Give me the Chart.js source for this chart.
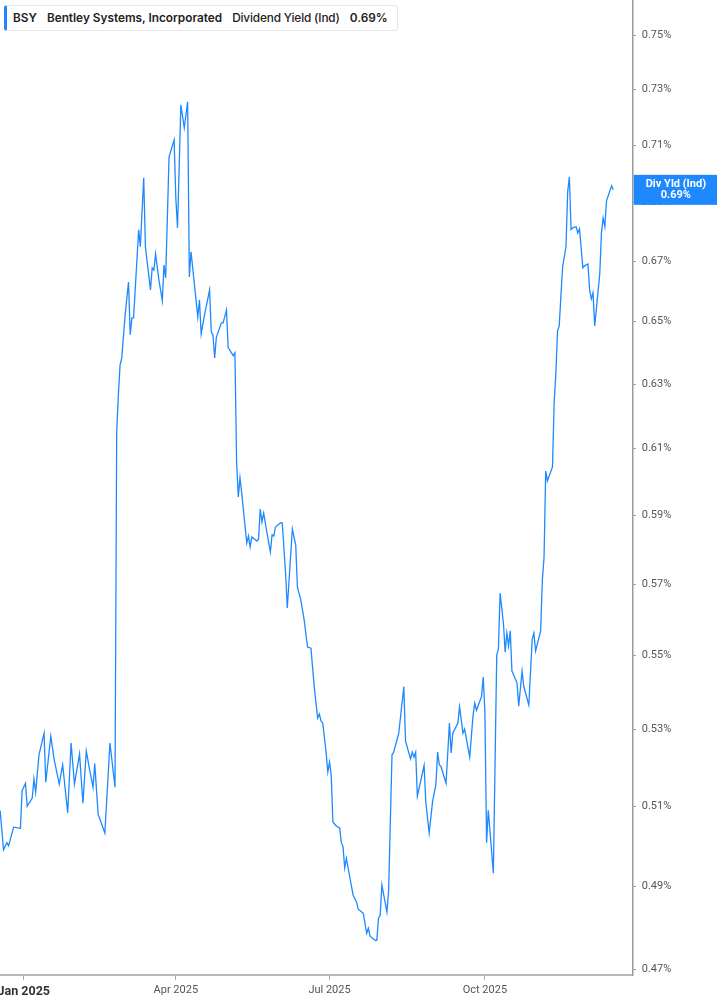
<!DOCTYPE html>
<html>
<head>
<meta charset="utf-8">
<script src="https://cdn.jsdelivr.net/npm/chart.js@4.4.1/dist/chart.umd.min.js"></script>
<style>
  body { margin: 0; background: #fff; }
  #wrap { position: relative; width: 717px; height: 1005px; }
  #head {
    position: absolute; left: 4px; top: 5px; width: 384px; height: 24px;
    background: #fff; border: 1px solid #e8e8e8; border-left: 3px solid #1e88ff;
    border-radius: 3px; font: 600 11.8px Inter, sans-serif; color: #222;
    line-height: 24px; white-space: nowrap; padding-left: 6px; box-sizing: content-box;
  }
  #head span { margin-right: 10px; }
  #head .lt { font-weight: 500; letter-spacing: -0.15px; }
</style>
</head>
<body>
<div id="wrap">
  <canvas id="myChart" width="717" height="1005"></canvas>
  <div id="head"><span>BSY</span><span>Bentley Systems, Incorporated</span><span class="lt">Dividend Yield (Ind)</span><span id="hval"></span></div>
</div>
<script>
// days since 2025-01-01
var days = [-14,-12,-10,-9,-6,-2,-1,1,2,5,6,7,9,12,13,16,18,21,23,26,28,30,33,35,37,39,41,42,44,48,51,54,
  55,56,57,58,60,62,63,64,65,68,69,71,72,75,76,77,78,80,82,83,84,86,89,90,91,93,95,97,98,99,100,103,104,105,107,110,111,112,113,114,117,118,120,121,124,125,
  126,127,128,129,132,133,134,135,138,139,140,141,142,144,146,147,148,149,152,153,155,156,159,161,162,164,
  166,168,170,172,174,175,176,177,179,180,181,182,183,185,187,188,189,190,191,193,195,197,198,201,203,204,205,208,209,210,211,212,215,216,218,219,222,225,
  226,229,230,231,232,233,237,238,240,242,244,245,246,247,250,252,253,254,257,258,260,261,264,266,267,268,271,272,273,274,275,278,280,
  281,282,284,285,286,287,288,289,292,293,295,296,299,301,302,303,306,307,308,309,310,313,314,315,316,317,318,319,321,322,323,324,325,327,328,329,331,332,334,335,336,337,338,341,342,343,344,345,348,349];

// dividend yield, %
var yields = [0.5089,0.4990,0.5008,0.5000,0.5047,0.5044,0.5140,0.5159,0.5100,0.5121,
  0.5170,0.5136,0.5233,0.5290,0.5162,0.5282,0.5220,0.5157,0.5207,0.5083,
  0.5264,0.5157,0.5235,0.5108,0.5243,0.5194,0.5149,0.5210,0.5080,0.5032,
  0.5264,0.5149,
  0.6151,0.6266,0.6361,0.6383,0.6522,0.6630,0.6457,0.6512,
  0.6512,0.6806,0.6748,0.6985,0.6748,0.6604,0.6677,0.6670,0.6724,0.6637,
  0.6568,0.6687,0.6644,0.7059,0.7119,0.6915,0.6812,0.7245,0.7162,0.7256,
  0.6647,0.6731,0.6677,0.6515,0.6571,0.6460,0.6522,0.6604,0.6467,0.6457,
  0.6383,0.6450,0.6496,0.6496,0.6538,0.6416,0.6390,0.6399,
  0.6056,0.5954,0.6011,0.5966,0.5818,0.5839,0.5807,0.5836,0.5824,0.5830,
  0.5918,0.5880,0.5906,0.5847,0.5792,0.5842,0.5839,0.5865,0.5877,0.5877,
  0.5731,0.5632,0.5859,0.5812,0.5691,0.5655,
  0.5598,0.5523,0.5520,0.5412,0.5330,0.5341,0.5322,0.5317,0.5238,0.5188,
  0.5214,0.5180,0.5060,0.5050,0.5045,0.5008,0.4998,0.4945,0.4969,0.4922,
  0.4878,0.4861,0.4844,0.4834,0.4786,0.4798,0.4779,0.4769,0.4769,0.4822,
  0.4829,0.4903,0.4837,0.4890,0.5233,0.5240,0.5290,0.5415,
  0.5269,0.5222,0.5240,0.5227,0.5240,0.5126,0.5205,0.5111,0.5032,0.5111,
  0.5157,0.5240,0.5207,0.5202,0.5159,0.5317,0.5238,0.5290,0.5317,0.5360,
  0.5290,0.5301,0.5227,0.5338,0.5370,0.5351,0.5388,0.5441,0.5344,0.5008,
  0.5090,0.4932,0.5501,
  0.5518,0.5674,0.5587,0.5509,0.5562,0.5526,0.5568,0.5457,0.5425,0.5362,
  0.5457,0.5415,0.5365,0.5545,0.5562,0.5512,0.5568,0.5711,0.5775,0.6032,
  0.6002,0.6044,0.6241,0.6332,0.6470,0.6486,0.6584,0.6680,0.6748,0.6936,
  0.6988,0.6806,0.6812,0.6816,0.6795,0.6809,0.6677,0.6684,0.6690,0.6604,
  0.6574,0.6594,0.6486,0.6657,0.6795,0.6846,0.6816,0.6905,0.6957,0.6943];

var tickDays = [0, 90, 181, 273];
var tickLabels = ['Jan 2025', 'Apr 2025', 'Jul 2025', 'Oct 2025'];
var yTicks = [0.47, 0.49, 0.51, 0.53, 0.55, 0.57, 0.59, 0.61, 0.63, 0.65, 0.67, 0.69, 0.71, 0.73, 0.75];

var blue = '#1e88ff';
var last = yields[yields.length - 1];
document.getElementById('hval').textContent = last.toFixed(2) + '%';

var pts = [];
for (var i = 0; i < days.length; i++) pts.push({x: days[i], y: yields[i]});

// blue value tag on the right axis
var lastTag = {
  id: 'lastTag',
  afterDraw: function(chart) {
    var c = chart.ctx, a = chart.chartArea;
    var y = chart.scales.y.getPixelForValue(last);
    c.save();
    c.fillStyle = blue;
    c.fillRect(a.right + 1, y - 15, chart.width - a.right, 30);
    c.fillStyle = '#fff';
    c.font = 'bold 11px Roboto, sans-serif';
    c.textAlign = 'center';
    c.textBaseline = 'middle';
    var cx = (a.right + chart.width) / 2 + 1;
    c.fillText('Div Yld (Ind)', cx, y - 5.5);
    c.fillText(last.toFixed(2) + '%', cx, y + 5.5);
    c.restore();
  }
};

function noPad(s) { s.paddingLeft = 0; s.paddingRight = 0; s.paddingTop = 0; s.paddingBottom = 0; }

new Chart(document.getElementById('myChart').getContext('2d'), {
  type: 'line',
  data: {
    datasets: [{
      data: pts,
      borderColor: blue,
      borderWidth: 1.3,
      pointRadius: 0,
      tension: 0,
      fill: false
    }]
  },
  options: {
    responsive: false,
    animation: false,
    layout: { padding: 0 },
    plugins: { legend: { display: false }, tooltip: { enabled: false } },
    scales: {
      x: {
        type: 'linear',
        min: -14.09,
        max: 360.5,
        afterBuildTicks: function(s) { s.ticks = tickDays.map(function(v) { return {value: v}; }); },
        afterFit: function(s) { s.height = 30; noPad(s); },
        ticks: {
          autoSkip: false,
          maxRotation: 0,
          padding: 4,
          callback: function(v) { return tickLabels[tickDays.indexOf(v)]; },
          color: function(ctx) { return ctx.tick && ctx.tick.value === 0 ? '#333' : '#555'; },
          font: function(ctx) {
            return ctx.tick && ctx.tick.value === 0
              ? {family: 'Roboto, sans-serif', size: 12.5, weight: 'bold'}
              : {family: 'Roboto, sans-serif', size: 11};
          }
        },
        grid: { drawOnChartArea: false, tickLength: 5, color: '#aaa' },
        border: { color: '#b8b8b8', width: 2 }
      },
      y: {
        type: 'logarithmic',
        position: 'right',
        min: 0.4687,
        max: 0.7635,
        afterBuildTicks: function(s) { s.ticks = yTicks.map(function(v) { return {value: v}; }); },
        afterFit: function(s) { s.width = 84.3; noPad(s); },
        ticks: {
          padding: 6,
          color: '#555',
          font: {family: 'Roboto, sans-serif', size: 11},
          callback: function(v) { return v.toFixed(2) + '%'; }
        },
        grid: { drawOnChartArea: false, tickLength: 3, color: '#888' },
        border: { color: '#999', width: 1.5 }
      }
    }
  },
  plugins: [lastTag]
});
</script>
</body>
</html>
